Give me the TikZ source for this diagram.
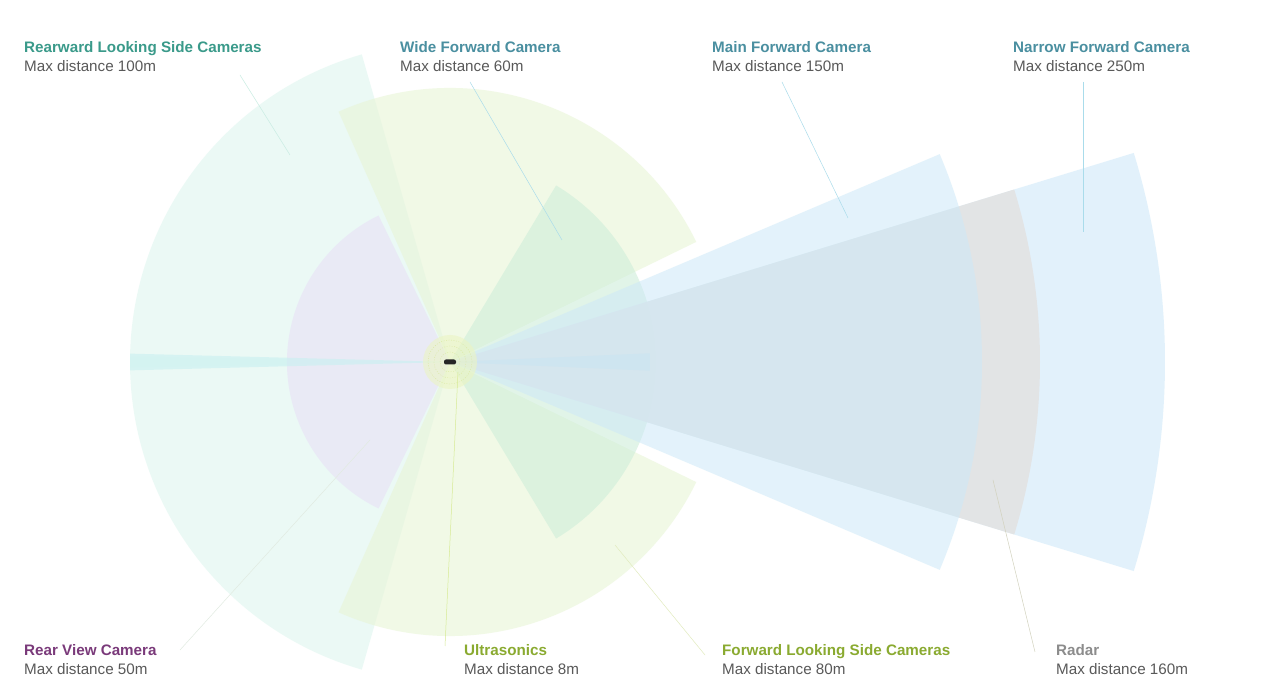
\documentclass[tikz,border=0pt]{standalone}
\usepackage{fontspec}
\setmainfont{Liberation Sans}
\begin{document}
\begin{tikzpicture}[x=1pt,y=1pt,
  lab/.style={anchor=north west,align=left,inner sep=0pt,font=\fontsize{15.2}{19.5}\selectfont,text=black!65},
  lead/.style={line width=0.5pt},
  sec/.style={draw=none}]
\useasboundingbox (0,0) rectangle (1280,698);
\fill[white] (0,0) rectangle (1280,698);
\coordinate (c) at (450,336);
\newcommand\sector[4]{\fill[#1] (c) -- ++(#2:#4) arc[start angle=#2,end angle=#3,radius=#4] -- cycle;}
% rearward side cameras
\sector{color={rgb,255:red,232;green,249;blue,244},fill opacity=0.85}{106}{181}{320}
\sector{color={rgb,255:red,232;green,249;blue,244},fill opacity=0.85}{179}{254}{320}
% forward looking side cameras
\sector{color={rgb,255:red,232;green,245;blue,214},fill opacity=0.6}{26}{114}{274}
\sector{color={rgb,255:red,232;green,245;blue,214},fill opacity=0.6}{-114}{-26}{274}
% rear view
\sector{color={rgb,255:red,233;green,233;blue,246},fill opacity=0.9}{116}{244}{163}
% wide forward
\sector{color={rgb,255:red,206;green,238;blue,218},fill opacity=0.6}{-59}{59}{206}
% narrow forward
\sector{color={rgb,255:red,214;green,236;blue,250},fill opacity=0.7}{-17}{17}{715}
% radar
\sector{color={rgb,255:red,226;green,226;blue,226},fill opacity=0.85}{-17}{17}{590}
% main forward
\sector{color={rgb,255:red,205;green,233;blue,248},fill opacity=0.55}{-23}{23}{532}
% narrow bright streak
\sector{color={rgb,255:red,190;green,228;blue,245},fill opacity=0.3}{-2.5}{2.5}{200}
% rear strip
\sector{color={rgb,255:red,200;green,240;blue,240},fill opacity=0.6}{178.5}{181.5}{320}
% ultrasonics
\fill[color={rgb,255:red,235;green,245;blue,195},fill opacity=0.6] (c) circle[radius=27];
\foreach \r in {10,16,22}{\draw[color={rgb,255:red,215;green,230;blue,150},line width=0.3pt,dash pattern=on 1pt off 1.5pt] (c) circle[radius=\r];}
\node[fill=black!85,rounded corners=2pt,minimum width=12pt,minimum height=5pt,inner sep=0pt] (car) at (c) {};

\node[lab] (t1) at (24,657) {\textbf{\color[RGB]{58,154,138}Rearward Looking Side Cameras}\\Max distance 100m};
\node[lab] (t2) at (400,657) {\textbf{\color[RGB]{74,143,160}Wide Forward Camera}\\Max distance 60m};
\node[lab] (t3) at (712,657) {\textbf{\color[RGB]{74,143,160}Main Forward Camera}\\Max distance 150m};
\node[lab] (t4) at (1013,657) {\textbf{\color[RGB]{74,143,160}Narrow Forward Camera}\\Max distance 250m};
\node[lab] (t5) at (24,54) {\textbf{\color[RGB]{122,58,122}Rear View Camera}\\Max distance 50m};
\node[lab] (t6) at (464,54) {\textbf{\color[RGB]{138,170,48}Ultrasonics}\\Max distance 8m};
\node[lab] (t7) at (722,54) {\textbf{\color[RGB]{138,170,48}Forward Looking Side Cameras}\\Max distance 80m};
\node[lab] (t8) at (1056,54) {\textbf{\color[RGB]{140,140,140}Radar}\\Max distance 160m};

\coordinate (e1) at (290,543); \coordinate (s1) at (240,623);
\coordinate (e2) at (562,458); \coordinate (s2) at (470,616);
\coordinate (e3) at (848,480); \coordinate (s3) at (782,616);
\coordinate (e4) at (1083,466); \coordinate (s4) at (1083,616);
\coordinate (e5) at (370,258); \coordinate (s5) at (180,48);
\coordinate (e6) at (458,326); \coordinate (s6) at (445,52);
\coordinate (e7) at (615,153); \coordinate (s7) at (705,43);
\coordinate (e8) at (993,218); \coordinate (s8) at (1035,46);
\draw[lead,color={rgb,255:red,200;green,236;blue,226}] (s1) -- (e1);
\draw[lead,color={rgb,255:red,170;green,220;blue,235}] (s2) -- (e2);
\draw[lead,color={rgb,255:red,170;green,220;blue,235}] (s3) -- (e3);
\draw[lead,color={rgb,255:red,170;green,220;blue,235}] (s4) -- (e4);
\draw[lead,color={rgb,255:red,225;green,235;blue,225}] (s5) -- (e5);
\draw[lead,color={rgb,255:red,215;green,235;blue,150}] (s6) -- (e6);
\draw[lead,color={rgb,255:red,225;green,235;blue,190}] (s7) -- (e7);
\draw[lead,color={rgb,255:red,210;green,210;blue,190}] (s8) -- (e8);
\end{tikzpicture}
\end{document}
